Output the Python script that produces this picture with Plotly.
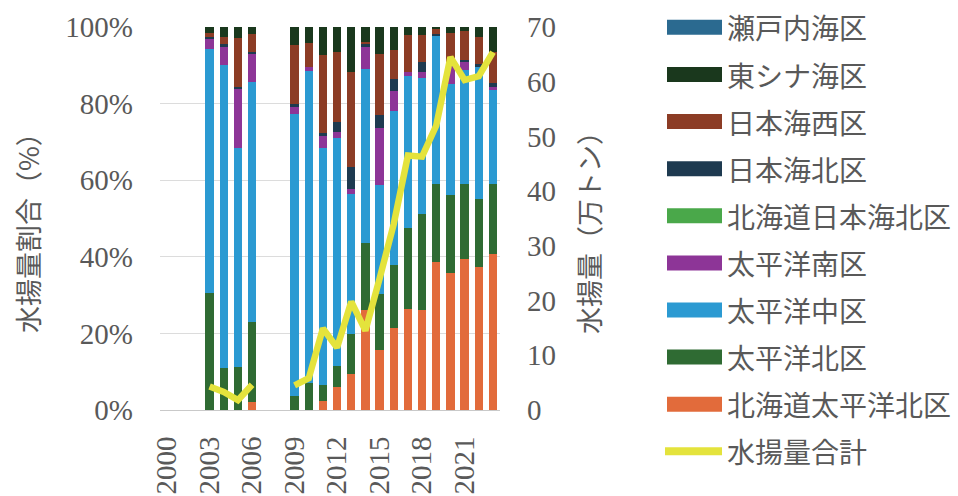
import plotly.graph_objects as go

# Fiscal years shown on the category axis
years = ["2000", "2001", "2002", "2003", "2004", "2005", "2006", "2007",
         "2008", "2009", "2010", "2011", "2012", "2013", "2014", "2015",
         "2016", "2017", "2018", "2019", "2020", "2021", "2022", "2023"]
year_ticks = ["2000", "2003", "2006", "2009", "2012", "2015", "2018", "2021"]

N = None
# Share of landings by sea area (%), stacked bottom to top
hokkaido_pacific_north = [N, N, N, 0.0, 0.0, 0.0, 2.0, N, N, 0.0, 0.0, 2.4, 5.9, 9.3,
                          26.1, 15.7, 21.3, 26.5, 26.1, 38.7, 35.7, 39.3, 37.4, 40.7]
pacific_north = [N, N, N, 30.5, 11.0, 11.3, 21.0, N, N, 3.7, 7.0, 4.1, 5.6, 10.5,
                 17.6, 14.7, 16.5, 20.9, 25.2, 20.4, 20.4, 19.8, 17.8, 18.4]
pacific_central = [N, N, N, 63.8, 79.2, 57.0, 62.7, N, N, 73.7, 81.5, 61.8, 59.6, 36.5,
                   45.4, 28.3, 40.3, 39.8, 35.5, 38.7, 29.1, 29.6, 34.4, 24.4]
pacific_south = [N, N, N, 2.7, 4.8, 15.4, 7.3, N, N, 1.6, 1.1, 3.3, 1.5, 1.5,
                 5.7, 15.0, 5.2, 1.1, 1.5, 0.0, 4.8, 2.2, 0.0, 0.8]
hokkaido_japan_sea_north = [N, N, N, 0.0, 0.0, 0.0, 0.0, N, N, 0.0, 0.0, 0.0, 0.0, 0.0,
                            0.0, 0.0, 0.0, 0.0, 0.0, 0.0, 0.0, 0.0, 0.0, 0.0]
japan_sea_north = [N, N, N, 0.5, 0.5, 0.6, 0.5, N, N, 1.0, 0.0, 0.6, 2.6, 5.7,
                   0.7, 3.3, 3.2, 0.0, 2.5, 0.5, 0.5, 0.4, 0.8, 1.1]
japan_sea_west = [N, N, N, 1.0, 1.8, 12.8, 4.8, N, N, 15.2, 6.2, 20.4, 18.3, 24.8,
                  0.6, 16.0, 7.4, 9.5, 7.0, 1.2, 7.9, 7.7, 7.0, 8.1]
east_china_sea = [N, N, N, 1.5, 2.7, 2.9, 1.7, N, N, 4.8, 4.2, 7.4, 6.5, 11.7,
                  3.9, 7.0, 6.1, 2.2, 2.2, 0.5, 1.6, 1.0, 2.6, 6.5]
seto_inland_sea = [N, N, N, 0.0, 0.0, 0.0, 0.0, N, N, 0.0, 0.0, 0.0, 0.0, 0.0,
                   0.0, 0.0, 0.0, 0.0, 0.0, 0.0, 0.0, 0.0, 0.0, 0.0]

# Total landings (10,000 t)
total_landings = [N, N, N, 4.3, 3.3, 1.8, 4.6, N, N, 4.5, 5.8, 14.9, 11.4, 19.8,
                  14.5, 24.0, 34.0, 46.5, 46.3, 52.0, 64.5, 60.3, 61.0, 65.4]

series_names = ["北海道太平洋北区", "太平洋北区", "太平洋中区", "太平洋南区",
                "北海道日本海北区", "日本海北区", "日本海西区", "東シナ海区", "瀬戸内海区"]
series_values = [hokkaido_pacific_north, pacific_north, pacific_central, pacific_south,
                 hokkaido_japan_sea_north, japan_sea_north, japan_sea_west,
                 east_china_sea, seto_inland_sea]
series_colors = ["#e26b3b", "#2f6b33", "#2b9ad2", "#8d3597",
                 "#4aa84a", "#1e3a50", "#8c3c25", "#1a381d", "#2b6a90"]
line_name = "水揚量合計"
line_color = "#e4e33c"

TEXT = "#595959"
NUM_FONT = "Liberation Serif"
JP_FONT = "Noto Sans CJK JP"

W, H = 958, 496
ML, MR, MT, MB = 160, 458, 27, 86
PW, PH = W - ML - MR, H - MT - MB


def px_x(x):
    return (x - ML) / PW


def px_y(y):
    return (H - MB - y) / PH


fig = go.Figure()
for name, vals, col in zip(series_names, series_values, series_colors):
    fig.add_trace(go.Bar(x=years, y=vals, name=name, marker_color=col,
                         marker_line_width=0, showlegend=False))

fig.add_trace(go.Scatter(x=years, y=total_landings, name=line_name, mode="lines",
                         line=dict(color=line_color, width=6.5), connectgaps=False,
                         yaxis="y2", showlegend=False))

# Legend drawn as swatches + labels, top entry first
legend_rows = [27.3, 74.5, 121.6, 168.7, 215.8, 262.9, 310.0, 357.1, 404.2, 451.3]
shapes = []
annotations = []
entries = list(zip(series_names, series_colors))[::-1]
for (name, col), yc in zip(entries, legend_rows):
    shapes.append(dict(type="rect", xref="paper", yref="paper",
                       x0=px_x(667), x1=px_x(722), y0=px_y(yc + 7.5), y1=px_y(yc - 7.5),
                       fillcolor=col, line_width=0))
    annotations.append(dict(xref="paper", yref="paper", x=px_x(725), y=px_y(yc),
                            xanchor="left", yanchor="middle", showarrow=False, text=name,
                            font=dict(family=JP_FONT, size=28, color=TEXT)))
yc = legend_rows[-1]
shapes.append(dict(type="line", xref="paper", yref="paper",
                   x0=px_x(665), x1=px_x(722), y0=px_y(yc), y1=px_y(yc),
                   line=dict(color=line_color, width=8)))
annotations.append(dict(xref="paper", yref="paper", x=px_x(725), y=px_y(yc),
                        xanchor="left", yanchor="middle", showarrow=False, text=line_name,
                        font=dict(family=JP_FONT, size=28, color=TEXT)))

# Axis titles
annotations.append(dict(xref="paper", yref="paper", x=px_x(27), y=px_y(226),
                        xanchor="center", yanchor="middle", showarrow=False, textangle=-90,
                        text="水揚量割合（%）", font=dict(family=JP_FONT, size=27, color=TEXT)))
annotations.append(dict(xref="paper", yref="paper", x=px_x(588), y=px_y(226),
                        xanchor="center", yanchor="middle", showarrow=False, textangle=-90,
                        text="水揚量（万トン）", font=dict(family=JP_FONT, size=27, color=TEXT)))

fig.update_layout(
    width=W, height=H,
    margin=dict(l=ML, r=MR, t=MT, b=MB, autoexpand=False),
    paper_bgcolor="white", plot_bgcolor="white",
    barmode="stack", bargap=0.41,
    shapes=shapes, annotations=annotations,
    xaxis=dict(type="category", categoryorder="array", categoryarray=years,
               range=[-0.5, 23.5], tickmode="array", tickvals=year_ticks,
               ticktext=year_ticks, tickangle=-90, ticks="", ticklabelstandoff=14,
               tickfont=dict(family=NUM_FONT, size=29, color=TEXT),
               showline=True, linecolor="#c9c9c9", linewidth=1, showgrid=False),
    yaxis=dict(range=[0, 100], dtick=20, ticksuffix="%", ticks="",
               ticklabelstandoff=26,
               tickfont=dict(family=NUM_FONT, size=29, color=TEXT),
               showgrid=True, gridcolor="#dcdcdc", gridwidth=1,
               zeroline=False, showline=False),
    yaxis2=dict(range=[0, 70], dtick=10, overlaying="y", side="right", ticks="",
                ticklabelstandoff=26,
                tickfont=dict(family=NUM_FONT, size=29, color=TEXT),
                showgrid=False, zeroline=False, showline=False),
)

fig.write_html("out.html")
